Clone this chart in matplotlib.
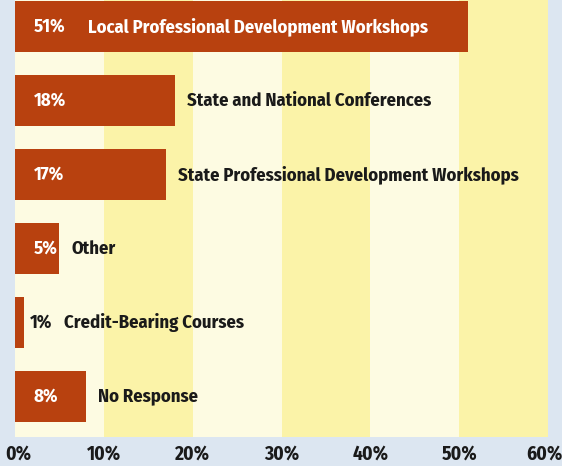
import matplotlib
matplotlib.use("Agg")
import matplotlib.pyplot as plt
from matplotlib.transforms import ScaledTranslation

categories = ["Local Professional Development Workshops",
              "State and National Conferences",
              "State Professional Development Workshops",
              "Other",
              "Credit-Bearing Courses",
              "No Response"]
values = [51, 18, 17, 5, 1, 8]
ticks = [0, 10, 20, 30, 40, 50, 60]
tick_labels = ["0%", "10%", "20%", "30%", "40%", "50%", "60%"]

plt.rcParams['font.family'] = ['Fira Sans Condensed', 'Roboto Condensed', 'DejaVu Sans']

bar_col = "#b8410f"
cream = "#fdfbe2"
yellow = "#fbf3a8"
dark = "#1a1a1a"
fs = 13.4

fig = plt.figure(figsize=(5.62, 4.66), dpi=100)
fig.patch.set_facecolor("#dce6f1")
ax = fig.add_axes([15 / 562, 29 / 466, 533 / 562, 437 / 466])

# alternating vertical bands
for i in range(len(ticks) - 1):
    ax.axvspan(ticks[i], ticks[i + 1], color=cream if i % 2 == 0 else yellow, lw=0, zorder=0)

y = list(range(len(values)))
ax.barh(y, values, height=0.7, color=bar_col, zorder=2)

for i, (v, name) in enumerate(zip(values, categories)):
    if v >= 5:
        ax.text(2.1, i, f"{v}%", color="white", fontsize=fs, fontweight="bold",
                va="center", ha="left", zorder=3)
        if v > 40:
            ax.text(8.2, i, name, color="white", fontsize=fs, fontweight="bold",
                    va="center", ha="left", zorder=3)
        else:
            ax.annotate(name, (v, i), xytext=(8.5, 0), textcoords="offset points",
                        color=dark, fontsize=fs, fontweight="bold",
                        va="center", ha="left", zorder=3)
    else:
        ax.annotate(f"{v}%", (v, i), xytext=(4.5, 0), textcoords="offset points",
                    color=dark, fontsize=fs, fontweight="bold",
                    va="center", ha="left", zorder=3)
        ax.annotate(name, (v, i), xytext=(29, 0), textcoords="offset points",
                    color=dark, fontsize=fs, fontweight="bold",
                    va="center", ha="left", zorder=3)

ax.set_xlim(0, 60)
ax.set_ylim(5.547, -0.358)
ax.set_xticks(ticks)
ax.set_xticklabels(tick_labels, fontsize=14, fontweight="bold", color=dark)
ax.set_yticks([])
ax.tick_params(axis="x", length=0, pad=5)
for s in ax.spines.values():
    s.set_visible(False)

# keep the first and last tick labels inside the canvas
labs = ax.get_xticklabels()
labs[0].set_transform(labs[0].get_transform() + ScaledTranslation(3 / 100, 0, fig.dpi_scale_trans))
labs[-1].set_transform(labs[-1].get_transform() + ScaledTranslation(-4 / 100, 0, fig.dpi_scale_trans))

fig.savefig("out.png", dpi=100, facecolor=fig.get_facecolor())
